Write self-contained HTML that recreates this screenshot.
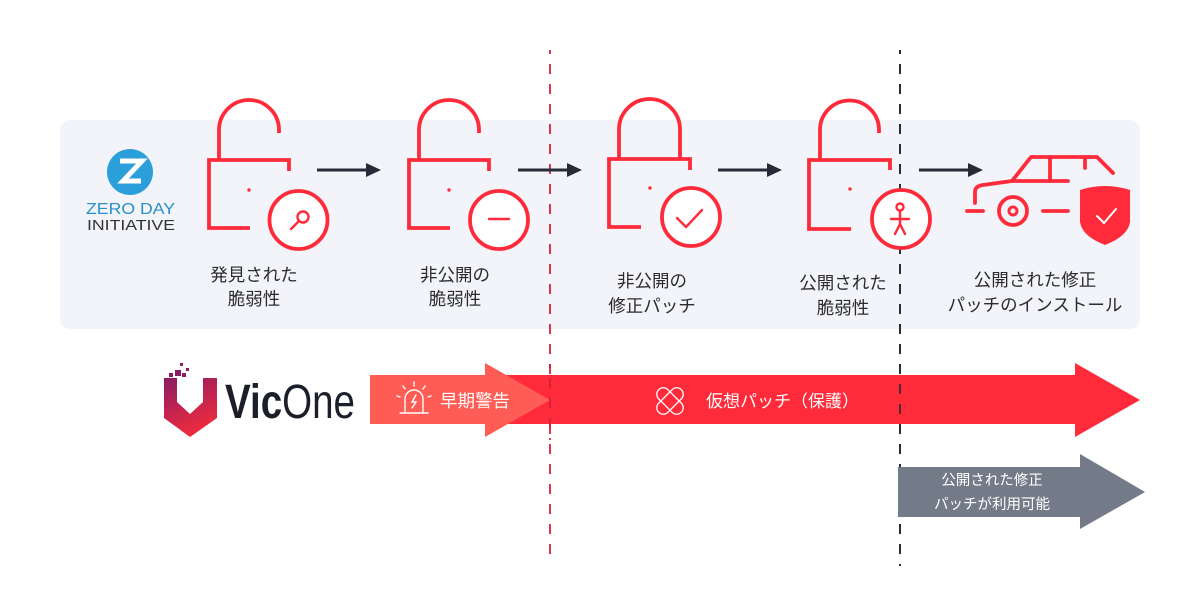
<!DOCTYPE html>
<html><head><meta charset="utf-8"><style>
html,body{margin:0;padding:0;background:#fff;width:1200px;height:600px;overflow:hidden}
svg{display:block}
.lb{font-family:"Liberation Sans","Noto Sans CJK JP",sans-serif;font-size:17.5px;fill:#2b2b2b;text-anchor:middle}
.wt{font-family:"Liberation Sans","Noto Sans CJK JP",sans-serif;fill:#fff}
</style></head><body>
<svg width="1200" height="600" viewBox="0 0 1200 600" xmlns="http://www.w3.org/2000/svg">
<defs>
<linearGradient id="vg" x1="0" y1="0" x2="0.4" y2="1">
<stop offset="0" stop-color="#8a1d62"/><stop offset="0.55" stop-color="#c4244f"/><stop offset="1" stop-color="#ec2c3d"/>
</linearGradient>
</defs>
<!-- panel -->
<rect x="60" y="120" width="1080" height="209" rx="10" fill="#f2f4f9"/>
<!-- dashed lines -->
<line x1="550" y1="50" x2="550" y2="562" stroke="#d43a4e" stroke-width="2" stroke-dasharray="10 10" stroke-dashoffset="6"/>
<line x1="900" y1="50" x2="900" y2="566" stroke="#2a2d35" stroke-width="2" stroke-dasharray="10 10" stroke-dashoffset="6"/>

<!-- ZDI logo -->
<circle cx="130" cy="172" r="23" fill="#2b9fd9"/>
<path d="M120,161 H142 L123,181 H141" fill="none" stroke="#fff" stroke-width="5" stroke-linejoin="miter"/>
<text x="86" y="214" textLength="89" lengthAdjust="spacingAndGlyphs" font-family="Liberation Sans,sans-serif" font-size="15.5" fill="#2a8fcb">ZERO DAY</text>
<text x="87" y="230" textLength="88" lengthAdjust="spacingAndGlyphs" font-family="Liberation Sans,sans-serif" font-size="15" fill="#333">INITIATIVE</text>

<g fill="none" stroke="#ff2b3b" stroke-width="3.8">
<!-- lock 1 -->
<path d="M219,160 V130 A30,30 0 0 1 279,130 V133"/>
<path d="M250,228 H209 V160 H289 V171"/>
<circle cx="298.5" cy="220" r="29" fill="#fff"/>
<!-- lock 2 -->
<path d="M419,160 V130 A30,30 0 0 1 479,130 V133"/>
<path d="M450,228 H409 V160 H489 V171"/>
<circle cx="499" cy="220" r="29" fill="#fff"/>
<!-- lock 3 -->
<path d="M619,159 V129.5 A30.5,30.5 0 0 1 680,129.5 V159"/>
<path d="M641,227 H609 V159 H690 V170"/>
<circle cx="691" cy="217" r="29" fill="#fff"/>
<!-- lock 4 -->
<path d="M820,160 V130 A29.5,29.5 0 0 1 879,130 V133"/>
<path d="M851,229 H809 V160 H890 V170"/>
<circle cx="901" cy="219" r="29" fill="#fff"/>
</g>
<g fill="#ff2b3b">
<circle cx="249" cy="190" r="1.7"/><circle cx="449" cy="190" r="1.7"/>
<circle cx="650" cy="188" r="1.7"/><circle cx="850" cy="189" r="1.7"/>
</g>
<g fill="none" stroke="#ff2b3b" stroke-width="2.4" stroke-linecap="round">
<circle cx="303" cy="217" r="5.5"/>
<line x1="299" y1="221" x2="291" y2="229"/>
<line x1="489" y1="219" x2="509" y2="219"/>
<path d="M677,218 L686,227 L702,210"/>
<circle cx="900" cy="207" r="3.5"/>
<line x1="891" y1="219" x2="909" y2="219"/>
<line x1="900" y1="211" x2="900" y2="225"/>
<path d="M895,234 L900,224 L905,234"/>
</g>

<!-- flow arrows -->
<g stroke="#262b36" stroke-width="3" fill="#262b36">
<line x1="317" y1="170" x2="368" y2="170"/><polygon points="366,163 381,170 366,177" stroke="none"/>
<line x1="518" y1="170" x2="569" y2="170"/><polygon points="567,163 582,170 567,177" stroke="none"/>
<line x1="718" y1="170" x2="769" y2="170"/><polygon points="767,163 782,170 767,177" stroke="none"/>
<line x1="919" y1="170" x2="970" y2="170"/><polygon points="968,163 983,170 968,177" stroke="none"/>
</g>

<!-- car -->
<g fill="none" stroke="#ff2b3b" stroke-width="3.8" stroke-linecap="round" stroke-linejoin="round">
<path d="M975,203 V192 Q975,186 983,185 L1012,181 L1031,157 H1097 L1113,173"/>
<line x1="1050" y1="157" x2="1050" y2="181"/>
<line x1="1085" y1="157" x2="1085" y2="168"/>
<line x1="1012" y1="181" x2="1068" y2="181"/>
<line x1="967" y1="211" x2="983" y2="211"/>
<line x1="1043" y1="211" x2="1068" y2="211"/>
<circle cx="1013" cy="211" r="14"/>
<circle cx="1013" cy="211" r="4" stroke-width="3"/>
</g>
<path d="M1080,190 Q1105,182 1130,190 L1130,222 Q1128,236 1105,245 Q1082,236 1080,222 Z" fill="#ff2b3b"/>
<path d="M1097,216 L1104,223 L1116,209" fill="none" stroke="#fff" stroke-width="2" stroke-linecap="round" stroke-linejoin="round"/>

<!-- labels -->
<text class="lb" x="254" y="281">発見された</text>
<text class="lb" x="254" y="305">脆弱性</text>
<text class="lb" x="455" y="281">非公開の</text>
<text class="lb" x="455" y="305">脆弱性</text>
<text class="lb" x="652" y="287">非公開の</text>
<text class="lb" x="652" y="312">修正パッチ</text>
<text class="lb" x="843" y="289">公開された</text>
<text class="lb" x="843" y="314">脆弱性</text>
<text class="lb" x="1035" y="286">公開された修正</text>
<text class="lb" x="1035" y="311">パッチのインストール</text>

<!-- VicOne logo -->
<path d="M164,378 H177 V402 L190,414 L203,402 V378 H217 V418 L190,437 L164,418 Z" fill="url(#vg)"/>
<g fill="#8a1d62">
<rect x="180" y="363" width="3" height="3"/>
<rect x="186" y="368" width="3" height="3"/>
<rect x="175" y="370" width="6" height="6"/>
<rect x="182" y="373" width="4" height="4"/>
<rect x="169" y="373" width="4" height="4"/>
</g>
<text x="225" y="418" textLength="130" lengthAdjust="spacingAndGlyphs" font-family="Liberation Sans,sans-serif" font-size="48" fill="#1c1f2a"><tspan font-weight="700">Vic</tspan><tspan font-weight="400">One</tspan></text>

<!-- big red arrow -->
<polygon points="480,375 1075,375 1075,363 1140,400 1075,437 1075,424 480,424" fill="#ff2a3a"/>
<!-- early warning arrow -->
<polygon points="370,375 485,375 485,363 550,400 485,437 485,424 370,424" fill="#ff5c55"/>
<!-- dashed line over red arrows -->
<line x1="550" y1="364" x2="550" y2="440" stroke="#c8233a" stroke-width="2" stroke-dasharray="10 10" stroke-dashoffset="6" opacity="0.8"/>
<line x1="900" y1="370" x2="900" y2="440" stroke="#2a2d35" stroke-width="2" stroke-dasharray="10 10" stroke-dashoffset="6" opacity="0.85"/>

<!-- alarm icon -->
<g fill="none" stroke="#fff" stroke-width="1.4" stroke-linecap="round">
<path d="M405,412 V399 A9,9 0 0 1 423,399 V412"/>
<line x1="400" y1="413" x2="428" y2="413"/>
<line x1="414" y1="382" x2="414" y2="386"/>
<line x1="403" y1="386" x2="405" y2="389"/>
<line x1="425" y1="386" x2="423" y2="389"/>
<line x1="397" y1="396" x2="400" y2="397"/>
<line x1="431" y1="396" x2="428" y2="397"/>
<path d="M416,395 L412,402 H416 L412,408"/>
</g>
<text class="wt" x="440" y="407" font-size="17.5">早期警告</text>

<!-- band-aid icon -->
<g fill="none" stroke="#fff" stroke-width="1.3" transform="translate(670,401)">
<rect x="-16" y="-6.5" width="32" height="13" rx="6.5" transform="rotate(45)"/>
<rect x="-16" y="-6.5" width="32" height="13" rx="6.5" transform="rotate(-45)"/>
</g>
<text class="wt" x="706" y="407" font-size="17">仮想パッチ（保護）</text>

<!-- gray arrow -->
<polygon points="898,467 1080,467 1080,454 1145,492 1080,529 1080,517 898,517" fill="#737b89"/>
<text class="wt" x="992" y="485" font-size="14.5" text-anchor="middle">公開された修正</text>
<text class="wt" x="992" y="509" font-size="14.5" text-anchor="middle">パッチが利用可能</text>
</svg>
</body></html>
